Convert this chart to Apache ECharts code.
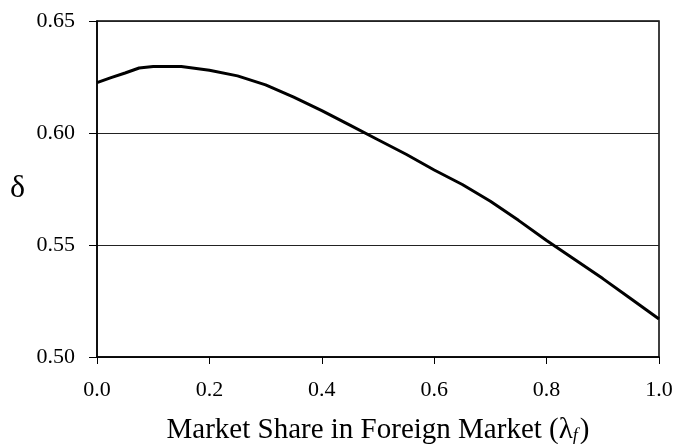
<!DOCTYPE html>
<html lang="en">
<head>
<meta charset="UTF-8">
<title>delta vs market share</title>
<script src="https://cdn.jsdelivr.net/npm/echarts@6/dist/echarts.min.js"></script>
<style>
body { margin: 0; background: #fff; }
#main { width: 692px; height: 444px; }
</style>
</head>
<body>
<div id="main"></div>
<script>
// market share in foreign market (lambda_f)
var share = [0, 0.025, 0.05, 0.075, 0.1, 0.15, 0.2, 0.25, 0.3, 0.35, 0.4, 0.45, 0.5,
             0.55, 0.6, 0.65, 0.7, 0.75, 0.8, 0.85, 0.9, 0.95, 1.0];
// delta
var delta = [0.6225, 0.6247, 0.6268, 0.629, 0.6297, 0.6297, 0.628, 0.6255, 0.6215, 0.616,
             0.610, 0.6035, 0.597, 0.5905, 0.5835, 0.577, 0.5695, 0.561, 0.552, 0.5435,
             0.535, 0.526, 0.517];

var xTicks = [0, 0.2, 0.4, 0.6, 0.8, 1.0];
var yTicks = [0.50, 0.55, 0.60, 0.65];

var pts = share.map(function (s, i) { return [s, delta[i]]; });

var serif = 'Liberation Serif';
var chart = echarts.init(document.getElementById('main'));
chart.setOption({
    animation: false,
    grid: {
        left: 97, right: 33, top: 21, bottom: 87,
        outerBoundsMode: 'none',
        containLabel: false,
        show: true, borderColor: '#000', borderWidth: 1.5
    },
    xAxis: {
        type: 'value',
        min: xTicks[0], max: xTicks[xTicks.length - 1], interval: 0.2,
        name: '{n|Market Share in Foreign Market (λ}{s|f}{n|)}',
        nameLocation: 'middle',
        nameGap: 58,
        nameTextStyle: {
            fontFamily: serif, fontSize: 29, color: '#000',
            rich: {
                n: { fontFamily: serif, fontSize: 29, color: '#000', lineHeight: 30 },
                s: { fontFamily: serif, fontSize: 18, fontStyle: 'italic', color: '#000',
                     lineHeight: 30, verticalAlign: 'bottom', padding: [6, 2, 0, 0] }
            }
        },
        axisLine: { show: true, lineStyle: { color: '#000', width: 1.5 } },
        axisTick: { show: true, length: 7, lineStyle: { color: '#000' } },
        axisLabel: {
            fontFamily: serif, fontSize: 22, color: '#000', margin: 22,
            formatter: function (v) { return v.toFixed(1); }
        },
        splitLine: { show: false }
    },
    yAxis: {
        type: 'value',
        min: yTicks[0], max: yTicks[yTicks.length - 1], interval: 0.05,
        name: 'δ',
        nameLocation: 'middle',
        nameRotate: 0,
        nameGap: 72,
        nameTextStyle: { fontFamily: serif, fontSize: 32, color: '#000' },
        axisLine: { show: true, lineStyle: { color: '#000', width: 1.5 } },
        axisTick: { show: true, length: 8, lineStyle: { color: '#000' } },
        axisLabel: {
            fontFamily: serif, fontSize: 22, color: '#000', margin: 22,
            formatter: function (v) { return v.toFixed(2); }
        },
        splitLine: { show: true, lineStyle: { color: '#222', width: 1 } }
    },
    series: [{
        type: 'line',
        data: pts,
        symbol: 'none',
        smooth: false,
        lineStyle: { color: '#000', width: 3 }
    }]
});
</script>
</body>
</html>
